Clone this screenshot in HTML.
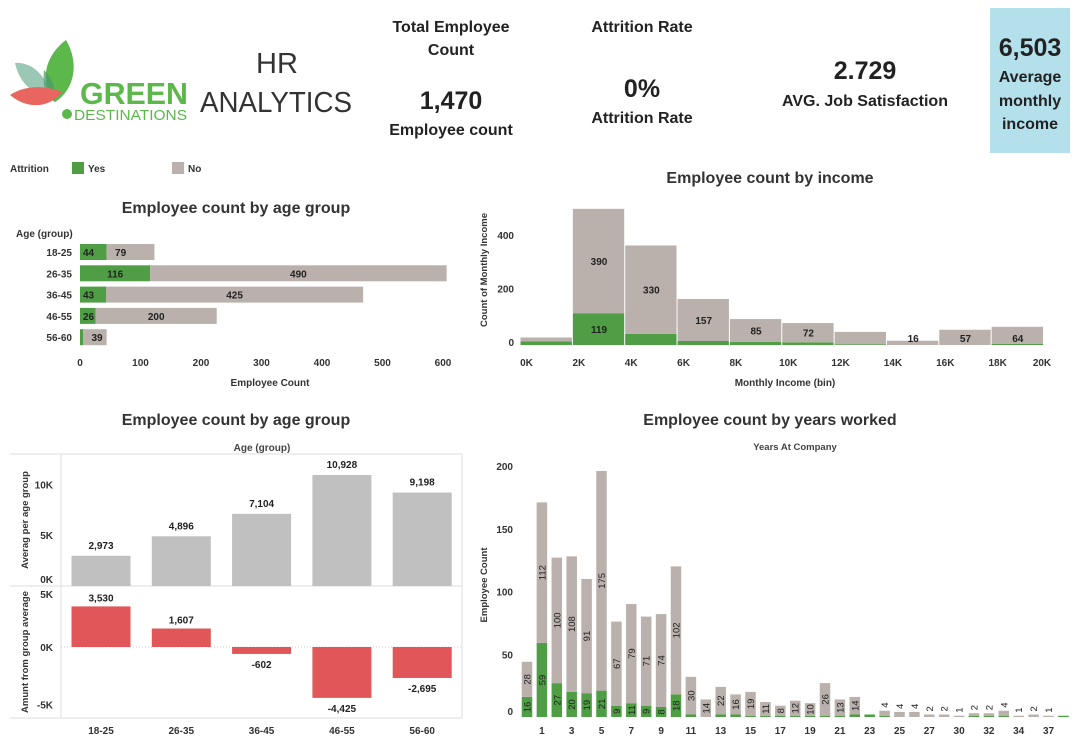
<!DOCTYPE html>
<html><head><meta charset="utf-8"><style>
html,body{margin:0;padding:0;background:#fff;width:1080px;height:746px;overflow:hidden;font-family:"Liberation Sans",sans-serif}
svg text{font-family:"Liberation Sans",sans-serif}
</style></head><body>
<svg id="root" width="1080" height="746" viewBox="0 0 1080 746">
<g>
  <path d="M15,63 C30,62 44,72 52,96 C36,96 20,86 15,63 Z" fill="#8fc2ad" opacity="0.9"/>
  <path d="M66,40 C46,55 38,80 55,102 C74,90 80,64 66,40 Z" fill="#5cb84a"/>
  <path d="M44,70 C52,78 56,88 55,102 C46,98 42,86 44,70 Z" fill="#4a9a6a" opacity="0.7"/>
  <path d="M10,95 C25,85 45,85 62,92 C48,110 25,108 10,95 Z" fill="#e8665f"/>
  <text x="80" y="104" font-size="31" font-weight="bold" fill="#5cb84a" textLength="108" lengthAdjust="spacingAndGlyphs">GREEN</text>
  <circle cx="67" cy="114" r="5" fill="#5cb84a"/>
  <text x="74" y="120" font-size="15" fill="#5cb84a" textLength="113" lengthAdjust="spacingAndGlyphs">DESTINATIONS</text>
</g>
<text x="277" y="73" font-size="29" fill="#333" text-anchor="middle">HR</text>
<text x="200" y="112" font-size="29" fill="#333" textLength="152" lengthAdjust="spacingAndGlyphs">ANALYTICS</text>

<g font-weight="bold" fill="#222" text-anchor="middle">
  <text x="451" y="32" font-size="16">Total Employee</text>
  <text x="451" y="55" font-size="16">Count</text>
  <text x="451" y="109" font-size="25">1,470</text>
  <text x="451" y="135" font-size="16">Employee count</text>
  <text x="642" y="32" font-size="16">Attrition Rate</text>
  <text x="642" y="97" font-size="25">0%</text>
  <text x="642" y="123" font-size="16">Attrition Rate</text>
  <text x="865" y="79" font-size="25">2.729</text>
  <text x="865" y="106" font-size="16">AVG. Job Satisfaction</text>
  <rect x="990" y="8" width="80" height="145" fill="#b4e0ec"/>
  <text x="1030" y="56" font-size="25">6,503</text>
  <text x="1030" y="82" font-size="16">Average</text>
  <text x="1030" y="106" font-size="16">monthly</text>
  <text x="1030" y="129" font-size="16">income</text>
</g>

<g font-size="10" font-weight="bold" fill="#333">
  <text x="10" y="172">Attrition</text>
  <rect x="72" y="162" width="12" height="12" fill="#4f9e45"/>
  <text x="88" y="172">Yes</text>
  <rect x="172" y="162" width="12" height="12" fill="#bab0ac"/>
  <text x="188" y="172">No</text>
</g>

<g id="c1"></g>
<g id="c2"></g>
<g id="c3"></g>
<g id="c4"></g>
</svg>
<script>
const ageGroups=["18-25","26-35","36-45","46-55","56-60"];
const ageYes=[44,116,43,26,5];
const ageNo=[79,490,425,200,39];
const ageTicks=[0,100,200,300,400,500,600];

const incomeBins=["0K","2K","4K","6K","8K","10K","12K","14K","16K","18K","20K"];
const incomeYes=[14,119,42,15,12,10,3,0,0,4];
const incomeNo=[14,390,330,157,85,72,46,16,57,64];
const incomeTicks=[0,200,400];

const avgIncome=[2973,4896,7104,10928,9198];
const diffIncome=[3530,1607,-602,-4425,-2695];
const avgTicks=[0,5000,10000];
const diffTicks=[-5000,0,5000];

const years=[0,1,2,3,4,5,6,7,8,9,10,11,12,13,14,15,16,17,18,19,20,21,22,23,24,25,26,27,29,30,31,32,33,34,36,37,40];
const yearsYes=[16,59,27,20,19,21,9,11,9,8,18,2,0,2,2,1,1,1,1,1,1,1,2,2,1,0,0,0,0,0,1,1,1,0,0,0,1];
const yearsNo=[28,112,100,108,91,175,67,79,71,74,102,30,14,22,16,19,11,8,12,10,26,13,14,0,4,4,4,2,2,1,2,2,4,1,2,1,0];
const yearsTicks=[0,50,100,150,200];
const yearsLabels=[1,3,5,7,9,11,13,15,17,19,21,23,25,27,30,32,34,37];

const NS="http://www.w3.org/2000/svg";
const GREEN="#4f9e45",GREY="#bab0ac",RED="#e05659";
function mk(p,tag,a,txt){const e=document.createElementNS(NS,tag);for(const k in a)e.setAttribute(k,a[k]);if(txt!==undefined)e.textContent=txt;p.appendChild(e);return e;}
function fmt(v){const s=Math.abs(v).toLocaleString('en-US');return (v<0?'-':'')+s;}

// Chart 1
(function(){
 const g=document.getElementById('c1');
 const x=v=>80+v*0.605, rowY=i=>252+i*21.3;
 let t=mk(g,'text',{x:236,y:213,'font-size':16,'font-weight':'bold',fill:'#333','text-anchor':'middle'},'Employee count by age group');
 
 t=mk(g,'text',{x:16,y:237,'font-size':10,'font-weight':'bold',fill:'#333'},'Age (group)');
 
 ageGroups.forEach((a,i)=>{
  const cy=rowY(i);
  let l=mk(g,'text',{x:72,y:cy+4,'font-size':10,'font-weight':'bold',fill:'#333','text-anchor':'end'},a);
  
  let r=mk(g,'rect',{x:x(0),y:cy-8,width:x(ageYes[i])-x(0),height:16,fill:GREEN});
  
  r=mk(g,'rect',{x:x(ageYes[i]),y:cy-8,width:x(ageNo[i])-x(0),height:16,fill:GREY});
  
  if(ageYes[i]>=20){l=mk(g,'text',{x:x(0)+3,y:cy+4,'font-size':10,'font-weight':'bold',fill:'#222'},ageYes[i]);
   if(ageYes[i]>60)l.setAttribute('x',(x(0)+x(ageYes[i]))/2-8);
   }
  l=mk(g,'text',{x:(x(ageYes[i])+x(ageYes[i]+ageNo[i]))/2,y:cy+4,'font-size':10,'font-weight':'bold',fill:'#222','text-anchor':'middle'},ageNo[i]);
  if(ageNo[i]<100)l.setAttribute('x',x(ageYes[i])+14);
  
 });
 ageTicks.forEach(v=>{let l=mk(g,'text',{x:x(v),y:366,'font-size':10,'font-weight':'bold',fill:'#333','text-anchor':'middle'},v);
  });
 t=mk(g,'text',{x:270,y:386,'font-size':10,'font-weight':'bold',fill:'#333','text-anchor':'middle'},'Employee Count');
 
})();

// Chart 2
(function(){
 const g=document.getElementById('c2');
 const x0=520.5,bw=52.35,y=v=>345-v*0.2675;
 let t=mk(g,'text',{x:770,y:183,'font-size':16,'font-weight':'bold',fill:'#333','text-anchor':'middle'},'Employee count by income');
 
 incomeYes.forEach((yv,i)=>{
  const nv=incomeNo[i],bx=x0+i*bw;
  let r=mk(g,'rect',{x:bx,y:y(yv),width:bw-1,height:y(0)-y(yv),fill:GREEN});
  
  r=mk(g,'rect',{x:bx,y:y(yv+nv),width:bw-1,height:y(yv)-y(yv+nv),fill:GREY});
  
  const skip=(i==0)||(nv>20&&nv<50);
  if(!skip){let l=mk(g,'text',{x:bx+bw/2,y:(y(yv)+y(yv+nv))/2+4,'font-size':10,'font-weight':'bold',fill:'#222','text-anchor':'middle'},nv);
   if(nv<70)l.setAttribute('y',y(0)-3);
   }
  if(yv>=100){let l=mk(g,'text',{x:bx+bw/2,y:(y(0)+y(yv))/2+4,'font-size':10,'font-weight':'bold',fill:'#222','text-anchor':'middle'},yv);
   }
 });
 incomeTicks.forEach(v=>{let l=mk(g,'text',{x:514,y:y(v)+1,'font-size':10,'font-weight':'bold',fill:'#333','text-anchor':'end'},v);
  });
 incomeBins.forEach((b,i)=>{let l=mk(g,'text',{x:x0+i*bw+6-(i==10?8:0),y:366,'font-size':10,'font-weight':'bold',fill:'#333','text-anchor':'middle'},b);
  });
 t=mk(g,'text',{x:785,y:386,'font-size':10,'font-weight':'bold',fill:'#333','text-anchor':'middle'},'Monthly Income (bin)');
 
 t=mk(g,'text',{x:0,y:0,'font-size':9.5,'font-weight':'bold',fill:'#333','text-anchor':'middle',transform:'translate(487,270) rotate(-90)'},'Count of Monthly Income');
 
})();

// Chart 3
(function(){
 const g=document.getElementById('c3');
 const cx=i=>101+i*80.3,bw=59;
 const yA=v=>586-v*0.01016,yD=v=>647-v*0.0115;
 let t=mk(g,'text',{x:236,y:425,'font-size':16,'font-weight':'bold',fill:'#333','text-anchor':'middle'},'Employee count by age group');
 
 t=mk(g,'text',{x:262,y:451,'font-size':10,'font-weight':'bold',fill:'#444','text-anchor':'middle'},'Age (group)');
 
 [[10,454,462,454],[10,718,462,718],[61,454,61,718],[462,454,462,718],[10,586,462,586]].forEach(a=>{
  const l=mk(g,'line',{x1:a[0],y1:a[1],x2:a[2],y2:a[3],stroke:'#ddd','stroke-width':1});
  });
 let z=mk(g,'line',{x1:61,y1:yD(0),x2:462,y2:yD(0),stroke:'#ccc','stroke-dasharray':'1,2'});
 
 ageGroups.forEach((a,i)=>{
  let r=mk(g,'rect',{x:cx(i)-bw/2,y:yA(avgIncome[i]),width:bw,height:yA(0)-yA(avgIncome[i]),fill:'#c0c0c0'});
  
  let l=mk(g,'text',{x:cx(i),y:yA(avgIncome[i])-7,'font-size':10,'font-weight':'bold',fill:'#222','text-anchor':'middle'},fmt(avgIncome[i]));
  
  const d=diffIncome[i];
  r=mk(g,'rect',{x:cx(i)-bw/2,y:Math.min(yD(d),yD(0)),width:bw,height:Math.abs(yD(d)-yD(0)),fill:RED});
  
  l=mk(g,'text',{x:cx(i),y:d>=0?yD(d)-5:yD(d)+14,'font-size':10,'font-weight':'bold',fill:'#222','text-anchor':'middle'},fmt(d));
  
  l=mk(g,'text',{x:cx(i),y:734,'font-size':10,'font-weight':'bold',fill:'#333','text-anchor':'middle'},a);
  
 });
 avgTicks.forEach(v=>{let l=mk(g,'text',{x:53,y:Math.min(yA(v)+4,583),'font-size':10,'font-weight':'bold',fill:'#333','text-anchor':'end'},(v/1000)+'K');
  });
 diffTicks.forEach(v=>{let l=mk(g,'text',{x:53,y:Math.max(yD(v)+4,598),'font-size':10,'font-weight':'bold',fill:'#333','text-anchor':'end'},(v/1000)+'K');
  });
 t=mk(g,'text',{x:0,y:0,'font-size':9.5,'font-weight':'bold',fill:'#333','text-anchor':'middle',transform:'translate(28,520) rotate(-90)'},'Averag per age group');
 
 t=mk(g,'text',{x:0,y:0,'font-size':9.5,'font-weight':'bold',fill:'#333','text-anchor':'middle',transform:'translate(28,652) rotate(-90)'},'Amunt from group average');
 
})();

// Chart 4
(function(){
 const g=document.getElementById('c4');
 const cx=i=>527+i*14.9,bw=10.5,y=v=>717-v*1.255;
 let t=mk(g,'text',{x:770,y:425,'font-size':16,'font-weight':'bold',fill:'#333','text-anchor':'middle'},'Employee count by years worked');
 
 t=mk(g,'text',{x:795,y:450,'font-size':9.5,'font-weight':'bold',fill:'#444','text-anchor':'middle'},'Years At Company');
 
 years.forEach((yr,i)=>{
  const yv=yearsYes[i],nv=yearsNo[i],x=cx(i);
  let r=mk(g,'rect',{x:x-bw/2,y:y(yv),width:bw,height:y(0)-y(yv),fill:GREEN});
  
  r=mk(g,'rect',{x:x-bw/2,y:y(yv+nv),width:bw,height:y(yv)-y(yv+nv),fill:GREY});
  
  if(nv>=8){let ly=(y(yv)+y(yv+nv))/2;let l=mk(g,'text',{x:0,y:0,'font-size':9.5,fill:'#222','text-anchor':'middle',transform:`translate(${x+3.5},${ly}) rotate(-90)`},nv);
   }
  else if(nv>0 && nv<=4){let l=mk(g,'text',{x:0,y:0,'font-size':9.5,fill:'#222','text-anchor':'start',transform:`translate(${x+3.5},${y(yv+nv)-3}) rotate(-90)`},nv);
   }
  if(yv>=8){let l=mk(g,'text',{x:0,y:0,'font-size':9.5,fill:'#222','text-anchor':'middle',transform:`translate(${x+3.5},${(y(0)+y(yv))/2}) rotate(-90)`},yv);
   }
 });
 yearsTicks.forEach(v=>{let l=mk(g,'text',{x:513,y:y(v)+(v==0?-2:4),'font-size':10,'font-weight':'bold',fill:'#333','text-anchor':'end'},v);
  });
 yearsLabels.forEach(v=>{const i=years.indexOf(v);let l=mk(g,'text',{x:cx(i),y:734,'font-size':10,'font-weight':'bold',fill:'#333','text-anchor':'middle'},v);
  });
 t=mk(g,'text',{x:0,y:0,'font-size':9.5,'font-weight':'bold',fill:'#333','text-anchor':'middle',transform:'translate(487,585) rotate(-90)'},'Employee Count');
 
})();
</script>
</body></html>
